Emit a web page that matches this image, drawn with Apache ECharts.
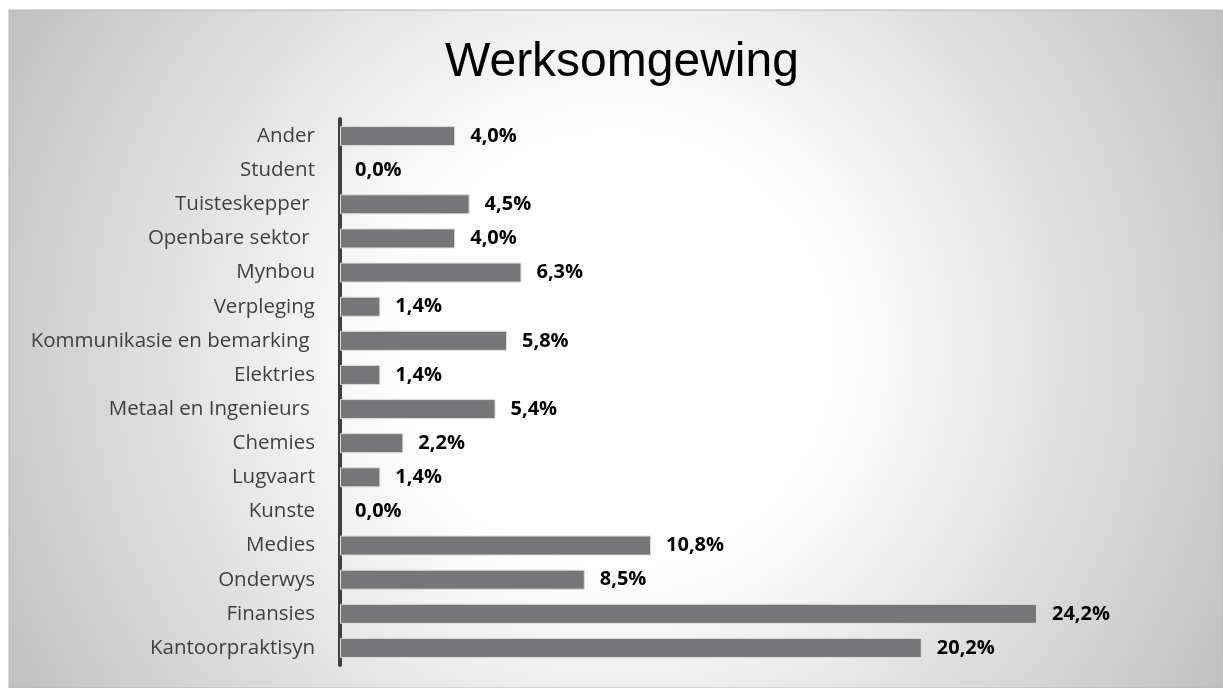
<!DOCTYPE html>
<html>
<head>
<meta charset="utf-8">
<script src="https://cdn.jsdelivr.net/npm/echarts@6/dist/echarts.min.js"></script>
<style>
  html, body { margin: 0; padding: 0; background: #fff; }
  #main { width: 1223px; height: 688px; }
</style>
</head>
<body>
<div id="main"></div>
<script>
// categories top to bottom (trailing spaces kept as in the source labels)
var categories = ['Ander', 'Student', 'Tuisteskepper ', 'Openbare sektor ', 'Mynbou', 'Verpleging',
  'Kommunikasie en bemarking ', 'Elektries', 'Metaal en Ingenieurs ', 'Chemies', 'Lugvaart',
  'Kunste', 'Medies', 'Onderwys', 'Finansies', 'Kantoorpraktisyn'];
var percentages = [4.0, 0.0, 4.5, 4.0, 6.3, 1.4, 5.8, 1.4, 5.4, 2.2, 1.4, 0.0, 10.8, 8.5, 24.2, 20.2];

var myChart = echarts.init(document.getElementById('main'));

// zero bars get no outline, so nothing shows next to the axis
var barData = percentages.map(function (v) {
  return v === 0 ? { value: v, itemStyle: { borderWidth: 0 } } : v;
});

var option = {
  animation: false,
  graphic: [{
    // slide background: radial gradient, white in the middle
    type: 'rect',
    z: -10,
    silent: true,
    shape: { x: 9, y: 10, width: 1214, height: 678 },
    style: {
      fill: new echarts.graphic.RadialGradient(616, 349, 720, [
        { offset: 0, color: '#ffffff' },
        { offset: 0.3, color: '#ffffff' },
        { offset: 1, color: '#bdbdbd' }
      ], true),
      stroke: '#b8b8b8',
      lineWidth: 1
    }
  }],
  title: {
    text: 'Werksomgewing',
    left: 445,
    top: 39,
    padding: 0,
    textStyle: {
      fontFamily: 'Liberation Sans',
      fontSize: 48,
      fontWeight: 'normal',
      color: '#000'
    }
  },
  grid: { left: 340, top: 119, bottom: 23, right: 19, containLabel: false },
  xAxis: {
    type: 'value',
    min: 0,
    max: 30,
    show: false
  },
  yAxis: {
    type: 'category',
    inverse: true,
    data: categories,
    offset: 2,
    axisLine: { show: true, lineStyle: { color: '#404040', width: 4 } },
    axisTick: { show: false },
    splitLine: { show: false },
    axisLabel: {
      margin: 23,
      color: '#404040',
      fontFamily: 'Open Sans',
      fontSize: 20.5
    }
  },
  series: [{
    type: 'bar',
    data: barData,
    barWidth: 20,
    itemStyle: {
      color: '#767679',
      borderColor: '#dcdcdc',
      borderWidth: 1
    },
    label: {
      show: true,
      position: 'right',
      distance: 15,
      color: '#000',
      fontFamily: 'Open Sans',
      fontWeight: 'bold',
      fontSize: 20,
      formatter: function (p) {
        return p.value.toFixed(1).replace('.', ',') + '%';
      }
    }
  }]
};

myChart.setOption(option);
window.addEventListener('resize', function () { myChart.resize(); });
</script>
</body>
</html>
